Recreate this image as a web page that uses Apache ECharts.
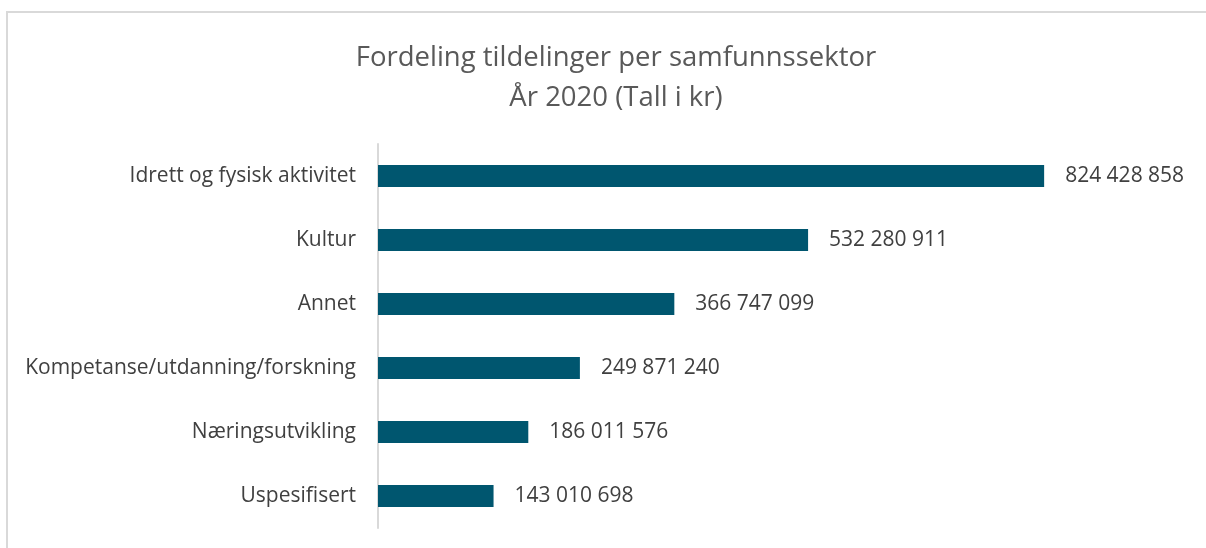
<!DOCTYPE html>
<html><head><meta charset="utf-8">
<script src="https://cdn.jsdelivr.net/npm/echarts@6/dist/echarts.min.js"></script>
<style>html,body{margin:0;padding:0;background:#fff}#c{width:1206px;height:548px}
#frame{position:absolute;left:6px;top:11px;width:1300px;height:600px;border-left:2px solid #d9d9d9;border-top:2px solid #d9d9d9;pointer-events:none}</style>
</head><body><div id="c"></div><div id="frame"></div>
<script>
const categories = ["Idrett og fysisk aktivitet","Kultur","Annet","Kompetanse/utdanning/forskning","Næringsutvikling","Uspesifisert"];
const values = [824428858,532280911,366747099,249871240,186011576,143010698];
const titleLines = ["Fordeling tildelinger per samfunnssektor","År 2020 (Tall i kr)"];

const fmt = v => String(v).replace(/\B(?=(\d{3})+(?!\d))/g, ' ');
const chart = echarts.init(document.getElementById('c'));
chart.setOption({
  animation:false,
  title:{text:titleLines.join('\n'),left:611,top:33,textAlign:'center',
    textStyle:{fontFamily:'Open Sans',fontSize:27.5,fontWeight:'normal',color:'#595959',lineHeight:40}},
  grid:{left:378,right:20,top:144,bottom:20,containLabel:false},
  xAxis:{type:'value',min:0,max:1000000000,show:false},
  yAxis:{type:'category',data:categories,inverse:true,
    axisLine:{lineStyle:{color:'#d9d9d9',width:2}},axisTick:{show:false},
    axisLabel:{fontFamily:'Open Sans',fontSize:21,color:'#404040',margin:22}},
  series:[{type:'bar',data:values,barWidth:22,itemStyle:{color:'#00566F'},
    label:{show:true,position:'right',distance:21,formatter:p=>fmt(p.value),
      fontFamily:'Open Sans',fontSize:21,color:'#404040'}}]
});
</script></body></html>
